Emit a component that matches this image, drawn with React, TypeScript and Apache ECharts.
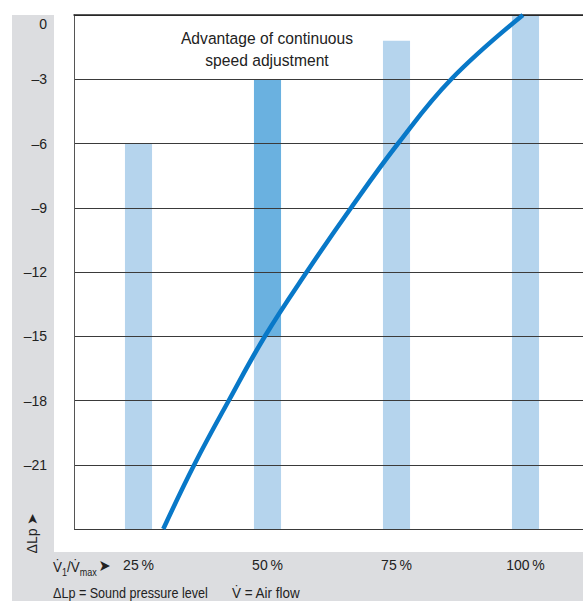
import React, { useEffect, useRef } from "react";
import * as echarts from "echarts";

const categories = ["25\u2009%", "50\u2009%", "75\u2009%", "100\u2009%"];
// light bar top per category (dB); dark segment top where present
const lightTop = [-6, -15, -1.2, 0];
const darkTop = [null, -3, null, null];
const yTicks = { min: -24, max: 0, interval: 3 };
// curve: air-flow (%) vs ΔLp (dB)
const curveX = [29.8, 35.8, 42.5, 49.5, 57.6, 66.2, 75.3, 85.6, 99.5];
const curveY = [-24, -21, -18, -15, -12, -9, -6, -3, 0];

const FONT = "'Liberation Sans', Arial, sans-serif";
const TXT = "#222";

export default function App() {
  const ref = useRef<HTMLDivElement>(null);
  useEffect(() => {
    if (!ref.current) return;
    const chart = echarts.init(ref.current, null, { renderer: "svg" });
    const barData = categories.map((_, i) => [
      i,
      lightTop[i],
      darkTop[i] == null ? lightTop[i] : darkTop[i],
    ]);
    chart.setOption({
      animation: false,
      textStyle: { fontFamily: FONT },
      graphic: [
        { type: "rect", z: -10, shape: { x: 12, y: 15, width: 42, height: 586 }, style: { fill: "#dcdde0" } },
        { type: "rect", z: -10, shape: { x: 12, y: 552, width: 578, height: 49 }, style: { fill: "#dcdde0" } },
        {
          type: "text",
          x: 267,
          y: 49,
          scaleX: 0.92,
          style: {
            text: "Advantage of continuous\nspeed adjustment",
            fill: TXT,
            font: `17px ${FONT}`,
            align: "center",
            verticalAlign: "middle",
            lineHeight: 22,
          },
        },
        {
          type: "text",
          x: 32,
          y: 533,
          rotation: Math.PI / 2,
          style: {
            text: "ΔLp ➤",
            fill: TXT,
            font: `14px ${FONT}`,
            align: "center",
            verticalAlign: "middle",
          },
        },
        {
          type: "text",
          x: 53,
          y: 565,
          scaleX: 0.9,
          style: {
            text: "{a|V\u0307}{s|1}{a|/V\u0307}{s|max}{b|➤}",
            fill: TXT,
            verticalAlign: "middle",
            rich: {
              a: { fontSize: 15, fontFamily: FONT, fill: TXT, lineHeight: 18, verticalAlign: "bottom" },
              s: { fontSize: 10, fontFamily: FONT, fill: TXT, lineHeight: 18, verticalAlign: "bottom", padding: [0, 0, -3, 0] },
              b: { fontSize: 16, fontFamily: "'DejaVu Sans', sans-serif", fill: TXT, lineHeight: 18, verticalAlign: "bottom", padding: [0, 0, 0, 2] },
            },
          },
        },
        {
          type: "text",
          x: 53,
          y: 593,
          scaleX: 0.9,
          style: { text: "ΔLp = Sound pressure level", fill: TXT, font: `14px ${FONT}`, verticalAlign: "middle" },
        },
        {
          type: "text",
          x: 232,
          y: 593,
          scaleX: 0.96,
          style: { text: "V\u0307 = Air flow", fill: TXT, font: `14px ${FONT}`, verticalAlign: "middle" },
        },
      ],
      grid: { left: 74, top: 15, width: 516, height: 514, containLabel: false },
      xAxis: [
        {
          type: "category",
          data: categories,
          boundaryGap: true,
          axisTick: { show: false },
          axisLine: { show: true, lineStyle: { color: "#222", width: 1.5 } },
          axisLabel: { color: TXT, fontSize: 14, fontFamily: FONT, margin: 29 },
          splitLine: { show: false },
          z: 3,
        },
        {
          type: "value",
          min: 12.5,
          max: 112.5,
          show: false,
          position: "top",
        },
      ],
      yAxis: {
        type: "value",
        min: yTicks.min,
        max: yTicks.max,
        interval: yTicks.interval,
        z: 3,
        axisLine: { show: true, lineStyle: { color: "#555", width: 1 } },
        axisTick: { show: false },
        axisLabel: {
          color: TXT,
          fontSize: 14,
          fontFamily: FONT,
          margin: 27,
          formatter: (v: number) =>
            v === yTicks.min ? "" : v === yTicks.max ? "{top|0}" : String(v).replace("-", "–"),
          rich: {
            top: { fontSize: 14, fontFamily: FONT, color: TXT, padding: [18, 0, 0, 0] },
          },
        },
        splitLine: { show: true, lineStyle: { color: "#3a3a3a", width: 1 } },
      },
      series: [
        {
          type: "custom",
          xAxisIndex: 0,
          z: 2,
          data: barData,
          renderItem: (params: any, api: any) => {
            const idx = api.value(0);
            const lt = api.value(1);
            const dt = api.value(2);
            const w = api.size([1, 0])[0] * 0.21;
            const pBase = api.coord([idx, yTicks.min]);
            const pLight = api.coord([idx, lt]);
            const pDark = api.coord([idx, dt]);
            const children: any[] = [
              {
                type: "rect",
                shape: { x: pBase[0] - w / 2, y: pLight[1], width: w, height: pBase[1] - pLight[1] },
                style: { fill: "#b5d4ed" },
              },
            ];
            if (dt > lt) {
              children.push({
                type: "rect",
                shape: { x: pBase[0] - w / 2, y: pDark[1], width: w, height: pLight[1] - pDark[1] },
                style: { fill: "#6ab1e0" },
              });
            }
            return { type: "group", children };
          },
        },
        {
          type: "line",
          xAxisIndex: 1,
          z: 5,
          smooth: 0.4,
          symbol: "none",
          clip: false,
          data: curveX.map((x, i) => [x, curveY[i]]),
          lineStyle: { color: "#0878c8", width: 4.5 },
        },
      ],
    });
    return () => chart.dispose();
  }, []);
  return (
    <div style={{ position: "absolute", left: 0, top: 0, width: 583, height: 601, overflow: "hidden" }}>
      <div ref={ref} style={{ width: 590, height: 601 }} />
    </div>
  );
}
